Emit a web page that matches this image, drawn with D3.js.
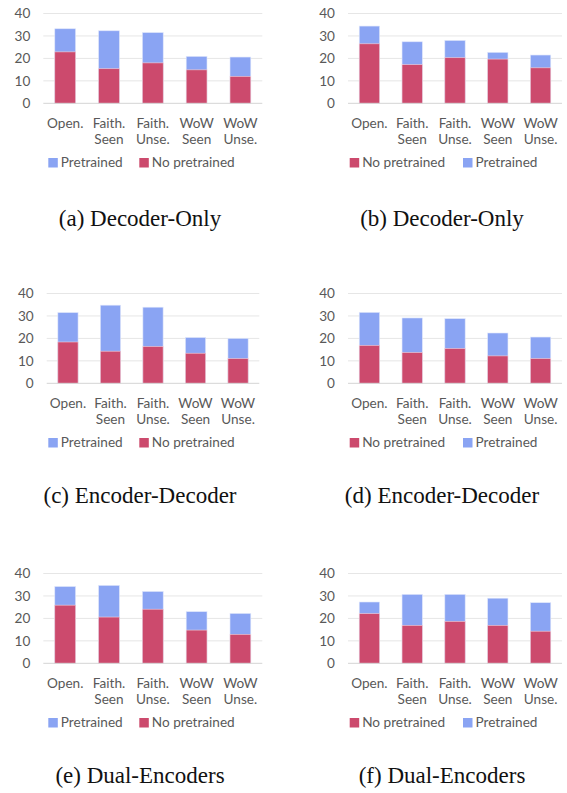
<!DOCTYPE html>
<html><head><meta charset="utf-8">
<script src="https://cdn.jsdelivr.net/npm/d3@7"></script>
<style>html,body{margin:0;padding:0;background:#fff;}svg{display:block;}</style>
</head><body>
<svg id="chart" width="567" height="793"></svg>
<script>
// ---- data ----
const categories = ["Open.", "Faith.\nSeen", "Faith.\nUnse.", "WoW\nSeen", "WoW\nUnse."];
const yTicks = [0, 10, 20, 30, 40];
const captions = ["(a) Decoder-Only", "(b) Decoder-Only", "(c) Encoder-Decoder", "(d) Encoder-Decoder", "(e) Dual-Encoders", "(f) Dual-Encoders"];
// pretrained = full bar height, noPretrained = red portion
const pretrainedA = [33.2, 32.3, 31.5, 20.9, 20.6];
const noPretrainedA = [22.9, 15.4, 18.0, 14.9, 12.0];
const pretrainedB = [34.4, 27.4, 28.0, 22.7, 21.5];
const noPretrainedB = [26.5, 17.2, 20.3, 19.7, 15.8];
const pretrainedC = [31.5, 34.8, 33.9, 20.4, 20.0];
const noPretrainedC = [18.4, 14.3, 16.4, 13.4, 11.0];
const pretrainedD = [31.6, 29.1, 28.8, 22.4, 20.6];
const noPretrainedD = [16.9, 13.7, 15.5, 12.2, 11.0];
const pretrainedE = [34.2, 34.7, 32.0, 23.0, 22.2];
const noPretrainedE = [25.9, 20.6, 24.1, 14.8, 12.9];
const pretrainedF = [27.3, 30.7, 30.7, 29.0, 27.0];
const noPretrainedF = [22.1, 16.9, 18.7, 16.9, 14.3];
const legendOrderLeft = ["Pretrained", "No pretrained"];
const legendOrderRight = ["No pretrained", "Pretrained"];

const panels = [
  {pre: pretrainedA, no: noPretrainedA, cap: captions[0], side: "L", row: 0, x0: 43.3, x1: 262.3},
  {pre: pretrainedB, no: noPretrainedB, cap: captions[1], side: "R", row: 0, x0: 348, x1: 562},
  {pre: pretrainedC, no: noPretrainedC, cap: captions[2], side: "L", row: 1, x0: 46.7, x1: 259.3},
  {pre: pretrainedD, no: noPretrainedD, cap: captions[3], side: "R", row: 1, x0: 348, x1: 562},
  {pre: pretrainedE, no: noPretrainedE, cap: captions[4], side: "L", row: 2, x0: 43.3, x1: 262.3},
  {pre: pretrainedF, no: noPretrainedF, cap: captions[5], side: "R", row: 2, x0: 348, x1: 562}
];

const colors = {"Pretrained": "#8AA4F3", "No pretrained": "#CC4A6D"};
const textColor = "#595959";
const font = "Lato, 'Open Sans', sans-serif";
const fs = 13.6;
const svg = d3.select("#chart");

panels.forEach(p => {
  const off = p.row * 280;
  const g = svg.append("g");
  const x = d3.scaleBand().domain(categories).range([p.x0, p.x1]).paddingInner(0.525).paddingOuter(0.2625);
  const y = d3.scaleLinear().domain([0, 40]).range([103.3 + off, 13.5 + off]);

  // gridlines
  g.selectAll("line.grid").data(yTicks.filter(t => t > 0)).enter().append("line")
    .attr("x1", p.x0).attr("x2", p.x1).attr("y1", d => y(d)).attr("y2", d => y(d))
    .attr("stroke", "#e6e6e6").attr("stroke-width", 1);
  // y tick labels
  g.selectAll("text.yt").data(yTicks).enter().append("text")
    .attr("x", p.x0 - 13).attr("y", d => y(d)).attr("dy", "0.36em")
    .attr("text-anchor", "end").attr("font-family", font).attr("font-size", fs)
    .attr("fill", textColor).text(d => d);

  // bars: pretrained (full) then no pretrained overlay
  g.selectAll("rect.pre").data(categories).enter().append("rect")
    .attr("x", d => x(d)).attr("width", x.bandwidth())
    .attr("y", (d, i) => y(p.pre[i])).attr("height", (d, i) => y(0) - y(p.pre[i]))
    .attr("fill", colors["Pretrained"]).attr("stroke", "#dfe6fb").attr("stroke-width", 0.6);
  g.selectAll("rect.no").data(categories).enter().append("rect")
    .attr("x", d => x(d)).attr("width", x.bandwidth())
    .attr("y", (d, i) => y(p.no[i])).attr("height", (d, i) => y(0) - y(p.no[i]))
    .attr("fill", colors["No pretrained"]).attr("stroke", "#f2d3dc").attr("stroke-width", 0.6);

  // baseline
  g.append("line").attr("x1", p.x0).attr("x2", p.x1).attr("y1", y(0)).attr("y2", y(0))
    .attr("stroke", "#d4d4d4").attr("stroke-width", 1);

  // category labels
  categories.forEach(c => {
    const lines = c.split("\n");
    const t = g.append("text").attr("text-anchor", "middle").attr("font-family", font)
      .attr("font-size", fs).attr("fill", textColor);
    lines.forEach((ln, k) => {
      t.append("tspan").attr("x", x(c) + x.bandwidth() / 2).attr("y", 127.7 + off + k * 16.6).text(ln);
    });
  });

  // legend
  const order = p.side === "L" ? legendOrderLeft : legendOrderRight;
  const lx = p.side === "L" ? [48.3, 139.3] : [349.7, 463];
  order.forEach((name, k) => {
    g.append("rect").attr("x", lx[k]).attr("y", 158 + off).attr("width", 9.5).attr("height", 9.5)
      .attr("fill", colors[name]);
    g.append("text").attr("x", lx[k] + 12.5).attr("y", 167 + off).attr("font-family", font)
      .attr("font-size", fs).attr("fill", textColor).text(name);
  });

  // caption
  const capY = [225.5, 502.5, 782.5][p.row];
  g.append("text").attr("x", p.side === "L" ? 140 : 442).attr("y", capY)
    .attr("text-anchor", "middle").attr("font-family", "'Liberation Serif', 'Times New Roman', serif")
    .attr("font-size", 23).attr("fill", "#111").text(p.cap);
});
</script>
</body></html>
